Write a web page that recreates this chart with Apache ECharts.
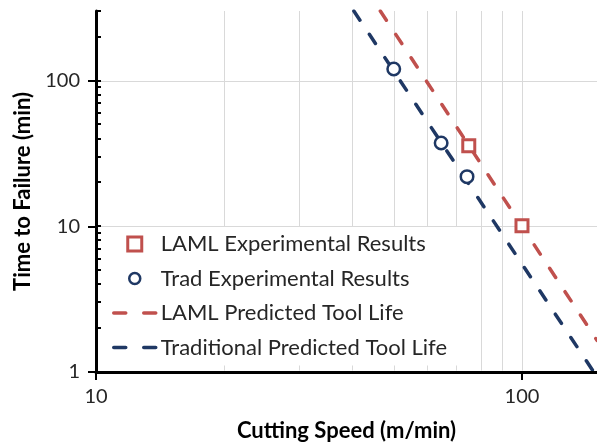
<!DOCTYPE html>
<html>
<head>
<meta charset="utf-8">
<script src="https://cdn.jsdelivr.net/npm/echarts@6/dist/echarts.min.js"></script>
<style>html,body{margin:0;padding:0;background:#fff;}#c{width:597px;height:447px;}</style>
</head>
<body>
<div id="c"></div>
<script>
// ---- data ----
const speedTicks = [10, 100];
const lifeTicks = [1, 10, 100];
const speedGrid = [20, 30, 40, 50, 60, 70, 80, 90, 100];
const lifeGrid = [10, 100];
const lifeMinorTicks = [1, 2, 3, 4, 5, 6, 7, 8, 9, 10, 20, 30, 40, 50, 60, 70, 80, 90, 100, 200, 300];

const lamlSpeed = [75, 100];
const lamlLife = [35.7, 10.1];
const tradSpeed = [50, 64.6, 74.3];
const tradLife = [120, 37.3, 21.9];

const lamlPredSpeed = [46.5, 150];
const lamlPredLife = [300, 1.65];
const tradPredSpeed = [40.3, 147.4];
const tradPredLife = [300, 1];

const xMin = 10, xMax = 150, yMin = 1, yMax = 300;

const RED = '#C0504D';
const BLUE = '#1F3864';
const GRID = '#D9D9D9';
const TXT = '#262626';
const FONT = 'Lato';
const SQUARE = 'path://M0 0H10V10H0Z';
const SMALL_CIRCLE = 'path://M-1.5 -1.5M12.5 12.5M11 5.5A5.5 5.5 0 1 1 0 5.5A5.5 5.5 0 1 1 11 5.5Z';
const HIDDEN = {color: 'rgba(0,0,0,0)', borderWidth: 0, borderColor: 'rgba(0,0,0,0)'};

const zip = (a, b) => a.map((v, i) => [v, b[i]]);

const chart = echarts.init(document.getElementById('c'), null, {renderer: 'canvas'});

const option = {
  animation: false,
  backgroundColor: '#fff',
  grid: {left: 96, right: 0, top: 11, bottom: 73, containLabel: false},
  xAxis: {
    type: 'log', logBase: 10, min: xMin, max: xMax, z: 10,
    name: 'Cutting Speed (m/min)', nameLocation: 'middle', nameGap: 48,
    nameTextStyle: {fontFamily: FONT, fontSize: 22, fontWeight: 'bold', color: '#000'},
    axisLine: {show: true, lineStyle: {color: '#000', width: 3}},
    axisTick: {show: true, customValues: speedTicks, length: 8, lineStyle: {color: '#000', width: 2}},
    axisLabel: {customValues: speedTicks, fontFamily: FONT, fontSize: 20, color: TXT, margin: 15},
    splitLine: {show: false},
    minorTick: {show: false}
  },
  yAxis: {
    type: 'log', logBase: 10, min: yMin, max: yMax, z: 10,
    name: 'Time to Failure (min)', nameLocation: 'middle', nameGap: 62,
    nameTextStyle: {fontFamily: FONT, fontSize: 22, fontWeight: 'bold', color: '#000'},
    axisLine: {show: true, lineStyle: {color: '#000', width: 3}},
    axisTick: {show: true, customValues: lifeTicks, length: 8, lineStyle: {color: '#000', width: 2}},
    axisLabel: {customValues: lifeTicks, fontFamily: FONT, fontSize: 20, color: TXT, margin: 16},
    splitLine: {show: false},
    minorTick: {show: false}
  },
  legend: {
    orient: 'vertical', left: 102, top: 227,
    backgroundColor: '#fff', padding: [6, 12, 7, 10],
    itemWidth: 42, itemHeight: 14, itemGap: 12.5,
    selectedMode: false,
    textStyle: {fontFamily: FONT, fontSize: 22, color: TXT},
    data: [
      {name: 'LAML Experimental Results', icon: SQUARE, itemStyle: {borderWidth: 3, borderColor: RED, color: '#fff'}},
      {name: 'Trad Experimental Results', icon: SMALL_CIRCLE, itemStyle: {borderWidth: 2.5, borderColor: BLUE, color: '#fff'}},
      {name: 'LAML Predicted Tool Life', itemStyle: HIDDEN, lineStyle: {width: 3.5, type: [12, 18], cap: 'round', color: RED}},
      {name: 'Traditional Predicted Tool Life', itemStyle: HIDDEN, lineStyle: {width: 3.5, type: [12, 18], cap: 'round', color: BLUE}}
    ]
  },
  series: [
    {
      type: 'custom', silent: true, z: 1,
      data: speedGrid.map(v => [v, yMin]),
      renderItem: function (params, api) {
        const v = api.value(0);
        const p1 = api.coord([v, yMin]);
        const p2 = api.coord([v, yMax]);
        const x = Math.round(p1[0]) + 0.5;
        return {type: 'line', shape: {x1: x, y1: p1[1] - 1.5, x2: x, y2: p2[1]}, style: {stroke: GRID, lineWidth: 1}};
      }
    },
    {
      type: 'custom', silent: true, z: 1,
      data: lifeGrid.map(v => [xMin, v]),
      renderItem: function (params, api) {
        const v = api.value(1);
        const p1 = api.coord([xMin, v]);
        const p2 = api.coord([xMax, v]);
        const y = Math.round(p1[1]) + 0.5;
        return {type: 'line', shape: {x1: p1[0] + 1.5, y1: y, x2: p2[0], y2: y}, style: {stroke: GRID, lineWidth: 1}};
      }
    },
    {
      type: 'custom', silent: true, z: 11,
      data: lifeMinorTicks.map(v => [xMin, v]),
      renderItem: function (params, api) {
        const v = api.value(1);
        const p = api.coord([xMin, v]);
        const y = Math.round(p[1]);
        return {type: 'line', shape: {x1: p[0], y1: y, x2: p[0] + 5, y2: y}, style: {stroke: '#000', lineWidth: 2}};
      }
    },
    {
      name: 'LAML Predicted Tool Life', type: 'line', z: 2,
      data: zip(lamlPredSpeed, lamlPredLife),
      symbol: 'none', showSymbol: false, silent: true,
      lineStyle: {color: RED, width: 3.5, type: [11, 17], cap: 'round'},
      itemStyle: {color: RED}
    },
    {
      name: 'Traditional Predicted Tool Life', type: 'line', z: 2,
      data: zip(tradPredSpeed, tradPredLife),
      symbol: 'none', showSymbol: false, silent: true,
      lineStyle: {color: BLUE, width: 3.5, type: [11, 17], cap: 'round'},
      itemStyle: {color: BLUE}
    },
    {
      name: 'LAML Experimental Results', type: 'scatter', z: 3,
      data: zip(lamlSpeed, lamlLife),
      symbol: 'rect', symbolSize: 12,
      itemStyle: {color: '#fff', borderColor: RED, borderWidth: 3, opacity: 1}
    },
    {
      name: 'Trad Experimental Results', type: 'scatter', z: 3,
      data: zip(tradSpeed, tradLife),
      symbol: 'circle', symbolSize: 12.5,
      itemStyle: {color: '#fff', borderColor: BLUE, borderWidth: 2.5, opacity: 1}
    }
  ]
};
chart.setOption(option);
</script>
</body>
</html>
